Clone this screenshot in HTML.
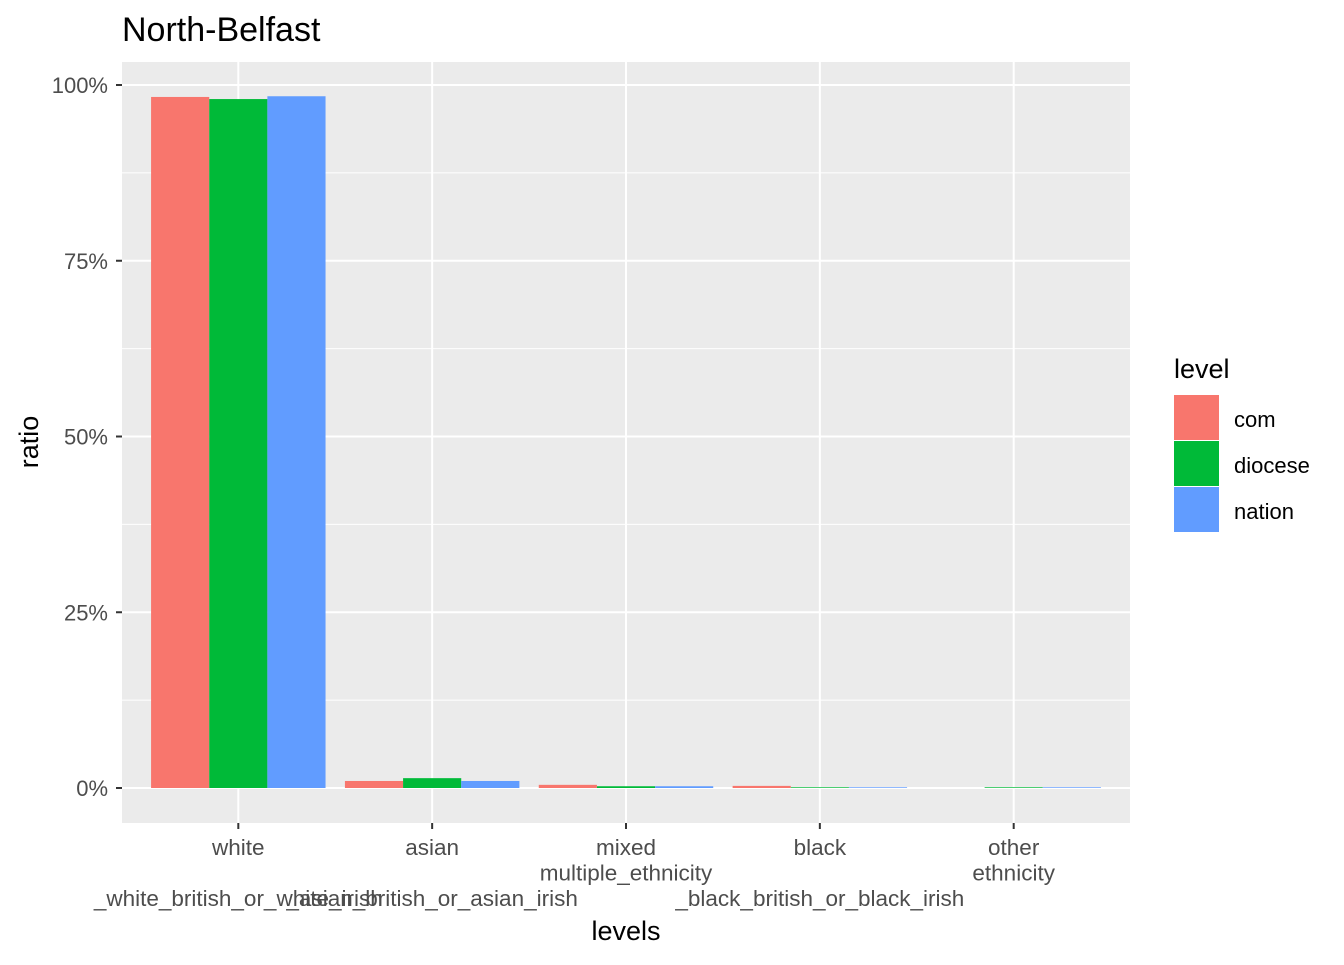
<!DOCTYPE html>
<html><head><meta charset="utf-8"><style>
body{margin:0;background:#fff;font-family:"Liberation Sans",Arial,sans-serif}
svg text{font-family:"Liberation Sans",Arial,sans-serif}
</style></head><body>
<svg id="c" width="1344" height="960" xmlns="http://www.w3.org/2000/svg">
<rect x="0" y="0" width="1344" height="960" fill="#fff"/>
<text x="122" y="41" font-size="34" fill="#000">North-Belfast</text>
<rect x="122" y="62" width="1008" height="761" fill="#EBEBEB"/>
<g id="grid"></g><g id="bars"></g><g id="axes"></g>
<text x="626" y="940" font-size="27" text-anchor="middle">levels</text>
<text transform="translate(38,442) rotate(-90)" font-size="27" text-anchor="middle">ratio</text>
<g>
<text x="1174" y="378" font-size="27">level</text>
<rect x="1174" y="395" width="45" height="45" fill="#F8766D"/>
<text x="1234" y="427" font-size="22">com</text>
<rect x="1174" y="441" width="45" height="45" fill="#00BA38"/>
<text x="1234" y="473" font-size="22">diocese</text>
<rect x="1174" y="487" width="45" height="45" fill="#619CFF"/>
<text x="1234" y="519" font-size="22">nation</text>
</g>
</svg>
<script>
const categories=["white","asian","mixed","black","other"];
const catLabels=[["white","","_white_british_or_white_irish"],["asian","","_asian_british_or_asian_irish"],["mixed","multiple_ethnicity"],["black","","_black_british_or_black_irish"],["other","ethnicity"]];
const com=[98.3,1.0,0.45,0.3,0.0];
const diocese=[98.0,1.4,0.25,0.1,0.1];
const nation=[98.4,1.0,0.25,0.1,0.1];
const yTicks=[0,25,50,75,100];
const seriesNames=["com","diocese","nation"];
const colors=["#F8766D","#00BA38","#619CFF"];
const NS="http://www.w3.org/2000/svg";
const x0=122,x1=1130,y0=788,yTop=85;
const y=v=>y0-(v/100)*(y0-yTop);
const step=(x1-x0)/(categories.length-1+1.2);
const cx=i=>x0+step*(i+0.6);
function mk(t,a,p){const e=document.createElementNS(NS,t);for(const k in a)e.setAttribute(k,a[k]);p.appendChild(e);return e;}
const grid=document.getElementById('grid'),bars=document.getElementById('bars'),axes=document.getElementById('axes');
for(let i=0;i<yTicks.length-1;i++){const m=(yTicks[i]+yTicks[i+1])/2;const l=mk('line',{x1:x0,x2:x1,y1:y(m),y2:y(m),stroke:'#fff','stroke-width':1},grid);

}
yTicks.forEach(t=>{const l=mk('line',{x1:x0,x2:x1,y1:y(t),y2:y(t),stroke:'#fff','stroke-width':2},grid);


const tk=mk('line',{x1:x0-6,x2:x0,y1:y(t),y2:y(t),stroke:'#333','stroke-width':2},axes);


const tx=mk('text',{x:x0-14,y:y(t)+8,'font-size':22,fill:'#4D4D4D','text-anchor':'end'},axes);tx.textContent=t+'%';

});
const series=[com,diocese,nation];
const bw=step*0.9/3;
categories.forEach((c,i)=>{
const g=mk('line',{x1:cx(i),x2:cx(i),y1:62,y2:823,stroke:'#fff','stroke-width':2},grid);


series.forEach((s,j)=>{const v=s[i];const r=mk('rect',{x:cx(i)-1.5*bw+j*bw,y:y(v),width:bw,height:Math.max(0,y0-y(v)),fill:colors[j]},bars);

});
const tk=mk('line',{x1:cx(i),x2:cx(i),y1:823,y2:829,stroke:'#333','stroke-width':2},axes);


catLabels[i].forEach((ln,k)=>{if(!ln)return;const t=mk('text',{x:cx(i),y:855+k*25.5,'font-size':22.5,fill:'#4D4D4D','text-anchor':'middle'},axes);t.textContent=ln;

});
});
</script>
</body></html>
